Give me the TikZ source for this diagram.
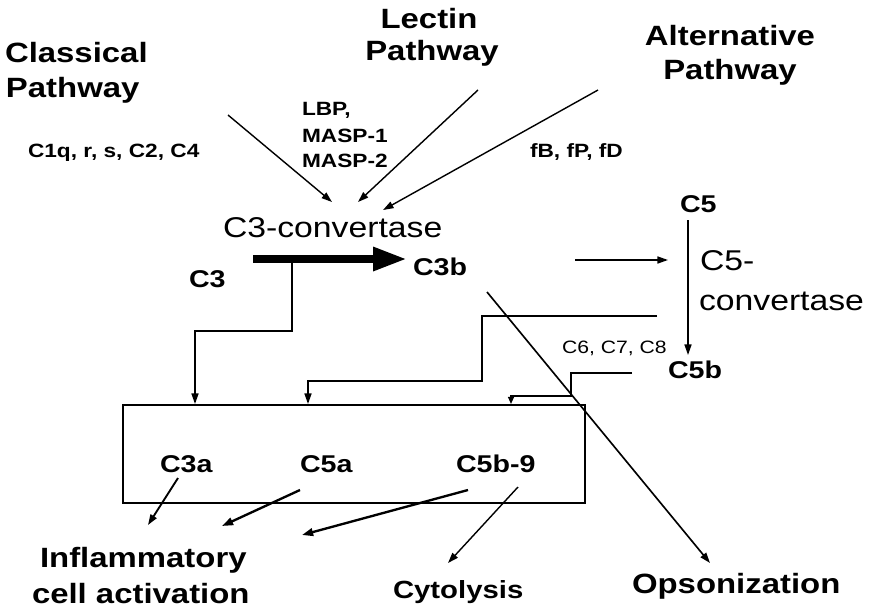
\documentclass[tikz,border=0pt]{standalone}
\usepackage{fontspec}
\setmainfont{Liberation Sans}[FakeStretch=1.18]
\usetikzlibrary{arrows.meta}
\tikzset{
  lbl/.style={inner sep=0pt, outer sep=0pt},
  title/.style={lbl, font=\fontsize{23.8}{28}\selectfont\bfseries},
  sub/.style={lbl, font=\fontsize{16.4}{19}\selectfont\bfseries},
  conv/.style={lbl, font=\fontsize{24.4}{28}\selectfont},
  comp/.style={lbl, font=\fontsize{20.7}{24}\selectfont\bfseries},
  small/.style={lbl, font=\fontsize{15.3}{18}\selectfont},
  thin/.style={line width=1.2pt},
  arr/.style={thin, -{Triangle[length=9pt,width=6pt]}},
  tharr/.style={line width=2pt, -{Triangle[length=9.5pt,width=6.5pt]}},
}
\begin{document}
\begin{tikzpicture}[x=0.03cm,y=-0.03cm]
\useasboundingbox (0,0) rectangle (874,609);
% titles
\node[title, anchor=base west] (cl1) at (5,62) {Classical};
\node[title, anchor=base west] (cl2) at (6,97) {Pathway};
\node[title, anchor=base] (le1) at (429,28) {Lectin};
\node[title, anchor=base] (le2) at (432,60) {Pathway};
\node[title, anchor=base] (al1) at (730,45) {Alternative};
\node[title, anchor=base] (al2) at (730,79) {Pathway};
% sub labels
\node[sub, anchor=base west] (c1q) at (28,157) {C1q, r, s, C2, C4};
\node[sub, anchor=base west] (lbp) at (302,115) {LBP,};
\node[sub, anchor=base west] (m1) at (302,142) {MASP-1};
\node[sub, anchor=base west] (m2) at (302,167) {MASP-2};
\node[sub, anchor=base west] (fb) at (530,157) {fB, fP, fD};
% convertases
\node[conv, anchor=base west] (c3conv) at (223,237) {C3-convertase};
\node[conv, anchor=base west] (c5conv1) at (700,270) {C5-};
\node[conv, anchor=base west] (c5conv2) at (699,310) {convertase};
% components
\node[comp, anchor=base west] (c3) at (189,287) {C3};
\node[comp, anchor=base west] (c3b) at (413,275) {C3b};
\node[comp, anchor=base west] (c5) at (680,212) {C5};
\node[comp, anchor=base west] (c5b) at (668,378) {C5b};
\node[small, anchor=base west] (c678) at (562,353) {C6, C7, C8};
\node[comp, anchor=base west] (c3a) at (160,472) {C3a};
\node[comp, anchor=base west] (c5a) at (300,472) {C5a};
\node[comp, anchor=base west] (c5b9) at (456,472) {C5b-9};
% outcomes
\node[title, anchor=base west] (inf1) at (40,567) {Inflammatory};
\node[title, anchor=base west] (inf2) at (32,603) {cell activation};
\node[title, anchor=base west, font=\fontsize{21.2}{25}\selectfont\bfseries] (cyt) at (393,598) {Cytolysis};
\node[title, anchor=base west] (ops) at (632,593) {Opsonization};
% box
\node[draw, line width=2pt, minimum width=462*0.03cm, minimum height=98*0.03cm, inner sep=0pt, anchor=north west] (box) at (122,404) {};
% coordinates
\coordinate (clS) at (228,115); \coordinate (clE) at (332,202);
\coordinate (leS) at (478,90);  \coordinate (leE) at (358,202);
\coordinate (alS) at (598,90);  \coordinate (alE) at (383,210);
\coordinate (bigS) at (253,259); \coordinate (bigE) at (407,259);
\coordinate (c3S) at (292,262); \coordinate (c3E) at (195,404);
\coordinate (c3bS) at (575,260); \coordinate (c3bE) at (668,260);
\coordinate (c5S) at (688,220); \coordinate (c5E) at (688,355);
\coordinate (cvS) at (657,316); \coordinate (cvE) at (308,404);
\coordinate (c6S) at (632,373); \coordinate (c6E) at (511,404);
\coordinate (opS) at (487,292); \coordinate (opE) at (710,563);
\coordinate (aS) at (178,478); \coordinate (aE) at (148,525);
\coordinate (bS) at (300,490); \coordinate (bE) at (222,526);
\coordinate (dS) at (468,490); \coordinate (dE) at (302,535);
\coordinate (eS) at (518,487); \coordinate (eE) at (448,563);
% connectors
\draw[arr] (clS) -- (clE);
\draw[arr] (leS) -- (leE);
\draw[arr] (alS) -- (alE);
\draw[line width=6.8pt, -{Triangle[length=29pt,width=19pt]}] (bigS) -- (bigE);
\draw[arr] (c3S) |- (243,331) -| (c3E);
\draw[arr] (c3bS) -- (c3bE);
\draw[arr] (c5S) -- (c5E);
\draw[arr] (cvS) -| (482,381) -| (cvE);
\draw[thin, -{Triangle[length=6pt,width=5pt]}] (c6S) -| (571,396) -| (c6E);
\draw[arr, line width=1.4pt] (opS) -- (opE);
\draw[arr, line width=1.6pt] (aS) -- (aE);
\draw[tharr] (bS) -- (bE);
\draw[tharr] (dS) -- (dE);
\draw[arr] (eS) -- (eE);
\end{tikzpicture}
\end{document}
